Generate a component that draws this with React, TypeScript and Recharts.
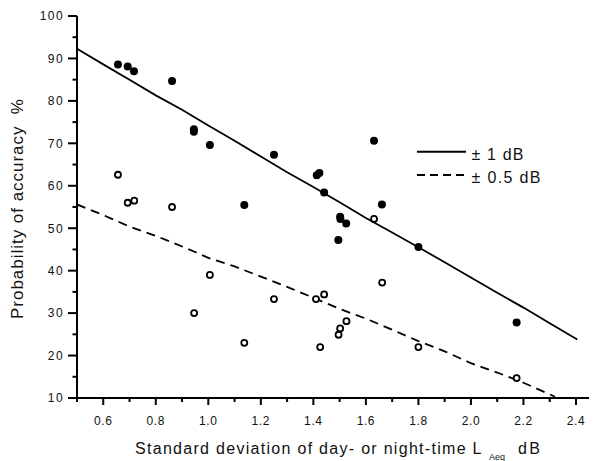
import React from "react";
import { ScatterChart, Scatter, XAxis, YAxis, Legend, Label } from "recharts";

// Standard deviation (dB) vs. probability of accuracy (%)
const filledX = [0.656, 0.693, 0.717, 0.862, 0.945, 0.945, 1.006, 1.137, 1.25, 1.413, 1.423, 1.441, 1.495, 1.502, 1.503, 1.525, 1.631, 1.661, 1.8, 2.174];
const filledY = [88.6, 88.1, 87.0, 84.7, 73.3, 72.7, 69.6, 55.5, 67.3, 62.5, 63.0, 58.4, 47.2, 52.7, 52.2, 51.1, 70.6, 55.6, 45.6, 27.8];

const openX = [0.656, 0.693, 0.718, 0.862, 0.946, 1.006, 1.137, 1.25, 1.41, 1.426, 1.441, 1.496, 1.502, 1.526, 1.631, 1.662, 1.8, 2.174];
const openY = [62.6, 56.0, 56.5, 55.0, 30.0, 39.0, 23.0, 33.3, 33.3, 22.0, 34.4, 24.9, 26.4, 28.1, 52.2, 37.2, 22.0, 14.7];

// Fitted curve for ± 1 dB
const wideFitX = [0.5, 0.6, 0.7, 0.8, 0.9, 1.0, 1.1, 1.2, 1.3, 1.4, 1.5, 1.6, 1.7, 1.8, 1.9, 2.0, 2.1, 2.2, 2.3, 2.405];
const wideFitY = [92.3, 88.6, 85.0, 81.3, 77.9, 74.2, 70.6, 66.9, 63.2, 59.7, 56.1, 52.4, 49.0, 45.5, 42.0, 38.4, 34.8, 31.3, 27.6, 23.8];

// Fitted curve for ± 0.5 dB
const narrowFitX = [0.5, 0.6, 0.7, 0.8, 0.9, 0.95, 1.0, 1.1, 1.2, 1.3, 1.4, 1.5, 1.6, 1.7, 1.8, 1.9, 2.0, 2.1, 2.2, 2.32];
const narrowFitY = [55.6, 53.1, 50.4, 48.2, 45.7, 44.4, 43.0, 41.0, 38.6, 36.2, 33.6, 31.0, 28.7, 26.1, 23.4, 21.0, 18.2, 16.0, 13.6, 10.3];

const xMajorTicks = [0.6, 0.8, 1.0, 1.2, 1.4, 1.6, 1.8, 2.0, 2.2, 2.4];
const xMinorTicks = [0.5, 0.7, 0.9, 1.1, 1.3, 1.5, 1.7, 1.9, 2.1, 2.3];
const yMajorTicks = [10, 20, 30, 40, 50, 60, 70, 80, 90, 100];
const yMinorTicks = [15, 25, 35, 45, 55, 65, 75, 85, 95];

const legendLabels = ["± 1 dB", "± 0.5 dB"];

const zip = (xs: number[], ys: number[]) => xs.map((x, i) => ({ x, y: ys[i] }));

const filledPts = zip(filledX, filledY);
const openPts = zip(openX, openY);
const widePts = zip(wideFitX, wideFitY);
const narrowPts = zip(narrowFitX, narrowFitY);

const FONT = "'Liberation Sans', Arial, sans-serif";

const XTick = (props: any) => {
  const { x, y, payload } = props;
  const major = xMajorTicks.includes(payload.value);
  return (
    <g>
      <line x1={x} x2={x} y1={y} y2={y + (major ? 7 : 4)} stroke="#000" strokeWidth={2} />
      {major && (
        <text x={x} y={y + 26.5} textAnchor="middle" fontFamily={FONT} fontSize={12} letterSpacing={0.6} fill="#111">
          {payload.value.toFixed(1)}
        </text>
      )}
    </g>
  );
};

const YTick = (props: any) => {
  const { x, y, payload } = props;
  const major = yMajorTicks.includes(payload.value);
  return (
    <g>
      <line x1={x} x2={x - (major ? 9 : 4.5)} y1={y} y2={y} stroke="#000" strokeWidth={2} />
      {major && (
        <text x={x - 13} y={y + 4.3} textAnchor="end" fontFamily={FONT} fontSize={12} letterSpacing={1.4} fill="#111">
          {payload.value}
        </text>
      )}
    </g>
  );
};

const XTitle = (props: any) => {
  const { viewBox } = props;
  const x0 = viewBox.x + 58;
  const y0 = viewBox.y + 56;
  return (
    <text fontFamily={FONT} fontSize={16} fill="#111">
      <tspan x={x0} y={y0} textLength={346.5} lengthAdjust="spacing">
        Standard deviation of day- or night-time L
      </tspan>
      <tspan x={x0 + 354} y={y0 + 6} fontSize={9}>Aeq</tspan>
      <tspan x={x0 + 383} y={y0} textLength={22} lengthAdjust="spacing">dB</tspan>
    </text>
  );
};

const YTitle = (props: any) => {
  const { viewBox } = props;
  const cx = viewBox.x + 14.5;
  const cy = viewBox.y + viewBox.height / 2 + 2;
  return (
    <text
      x={cx}
      y={cy}
      transform={`rotate(-90 ${cx} ${cy})`}
      textAnchor="middle"
      fontFamily={FONT}
      fontSize={17}
      fill="#111"
      textLength={220}
      lengthAdjust="spacing"
      style={{ whiteSpace: "pre" }}
    >
      {"Probability of accuracy  %"}
    </text>
  );
};

const LegendBox = () => (
  <svg width={140} height={46} style={{ display: "block" }}>
    <line x1={0} x2={49} y1={7.7} y2={7.7} stroke="#000" strokeWidth={2} />
    <text x={54.5} y={16} fontFamily={FONT} fontSize={16} fill="#111" textLength={52} lengthAdjust="spacing">
      {legendLabels[0]}
    </text>
    <line x1={0} x2={49} y1={31} y2={31} stroke="#000" strokeWidth={2} strokeDasharray="8 5" />
    <text x={54.5} y={38.7} fontFamily={FONT} fontSize={16} fill="#111" textLength={69} lengthAdjust="spacing">
      {legendLabels[1]}
    </text>
  </svg>
);

const FilledDot = (props: any) => <circle cx={props.cx} cy={props.cy} r={4} fill="#000" />;
const OpenDot = (props: any) => (
  <circle cx={props.cx} cy={props.cy} r={3} fill="#fff" stroke="#000" strokeWidth={1.8} />
);
const NoDot = () => <g />;

export default function App() {
  return (
    <div>
      <style>{"html,body{overflow:hidden}"}</style>
      <ScatterChart width={589} height={453} margin={{ top: 8, right: 0, bottom: 0, left: 0 }}>
        <XAxis
          type="number"
          dataKey="x"
          domain={[0.5, 2.48]}
          ticks={[...xMinorTicks, ...xMajorTicks].sort((a, b) => a - b)}
          interval={0}
          allowDataOverflow
          height={63}
          tickSize={0}
          tickMargin={0}
          tickLine={false}
          tick={<XTick />}
          axisLine={{ stroke: "#000", strokeWidth: 2 }}
        >
          <Label content={<XTitle />} />
        </XAxis>
        <YAxis
          type="number"
          dataKey="y"
          domain={[10, 100]}
          ticks={[...yMajorTicks, ...yMinorTicks].sort((a, b) => a - b)}
          interval={0}
          allowDataOverflow
          width={69}
          tickSize={0}
          tickMargin={0}
          tickLine={false}
          tick={<YTick />}
          axisLine={{ stroke: "#000", strokeWidth: 2 }}
        >
          <Label content={<YTitle />} />
        </YAxis>
        <Legend
          verticalAlign="middle"
          layout="horizontal"
          content={<LegendBox />}
          wrapperStyle={{ position: "absolute", left: 409, top: 136, width: 140, height: 46 }}
        />
        <Scatter
          data={widePts}
          line={{ stroke: "#000", strokeWidth: 1.8 }}
          shape={<NoDot />}
          isAnimationActive={false}
          legendType="none"
        />
        <Scatter
          data={narrowPts}
          line={{ stroke: "#000", strokeWidth: 1.8, strokeDasharray: "9 6" }}
          shape={<NoDot />}
          isAnimationActive={false}
          legendType="none"
        />
        <Scatter data={filledPts} shape={<FilledDot />} isAnimationActive={false} legendType="none" />
        <Scatter data={openPts} shape={<OpenDot />} isAnimationActive={false} legendType="none" />
      </ScatterChart>
    </div>
  );
}
